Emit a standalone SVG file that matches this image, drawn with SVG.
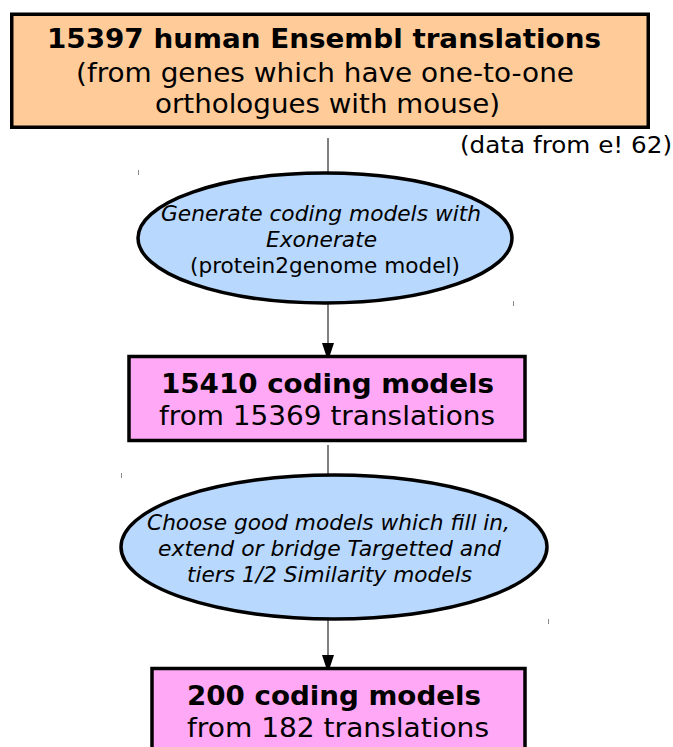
<svg xmlns="http://www.w3.org/2000/svg" width="673" height="747" viewBox="0 0 673 747">
<defs>
<style>
.box{stroke:#000;stroke-width:3.5}
.ell{fill:#b9d8fd;stroke:#000;stroke-width:3.5}
.t{font-family:"DejaVu Sans",sans-serif;text-anchor:middle;fill:#000}
.b{font-weight:bold}
.i{font-style:italic}
.c{stroke:#000;stroke-width:1;fill:none}
.tick{stroke:#888;stroke-width:1}
</style>
<marker id="ah" viewBox="0 0 12 18" refX="12" refY="6" markerWidth="12" markerHeight="18" markerUnits="userSpaceOnUse" orient="auto">
<path d="M0,0 L18,6 L0,12 Z" fill="#000"/>
</marker>
</defs>
<rect width="673" height="747" fill="#fff"/>
<g id="connectors">
<line class="c" x1="328" y1="138" x2="328" y2="172"/>
<line class="c" x1="328" y1="304" x2="328" y2="355" marker-end="url(#ah)"/>
<line class="c" x1="328" y1="445" x2="328" y2="474"/>
<line class="c" x1="328" y1="620" x2="328" y2="667" marker-end="url(#ah)"/>
</g>
<g id="ticks">
<line class="tick" x1="138.5" y1="170" x2="138.5" y2="175"/>
<line class="tick" x1="513.5" y1="301" x2="513.5" y2="306"/>
<line class="tick" x1="121.5" y1="473" x2="121.5" y2="478"/>
<line class="tick" x1="548.5" y1="619" x2="548.5" y2="624"/>
</g>
<g id="n1">
<rect class="box" x="11.75" y="14.25" width="636.5" height="113" fill="#ffcc99"/>
<text class="t b" x="324" y="48" font-size="27" textLength="554" lengthAdjust="spacingAndGlyphs">15397 human Ensembl translations</text>
<text class="t" x="325" y="82" font-size="27" textLength="498" lengthAdjust="spacingAndGlyphs">(from genes which have one-to-one</text>
<text class="t" x="327.5" y="113" font-size="27" textLength="345" lengthAdjust="spacingAndGlyphs">orthologues with mouse)</text>
</g>
<g id="note">
<text x="460" y="153" font-family="DejaVu Sans,sans-serif" font-size="22.5" fill="#000" textLength="212" lengthAdjust="spacingAndGlyphs">(data from e! 62)</text>
</g>
<g id="n2">
<ellipse class="ell" cx="325" cy="238" rx="187" ry="65"/>
<text class="t i" x="321" y="221" font-size="21" textLength="320" lengthAdjust="spacingAndGlyphs">Generate coding models with</text>
<text class="t i" x="321.5" y="247" font-size="21" textLength="111" lengthAdjust="spacingAndGlyphs">Exonerate</text>
<text class="t" x="325" y="273" font-size="21" textLength="270" lengthAdjust="spacingAndGlyphs">(protein2genome model)</text>
</g>
<g id="n3">
<rect class="box" x="129" y="356.5" width="396" height="84" fill="#ffa8f5"/>
<text class="t b" x="327.5" y="393" font-size="27" textLength="333" lengthAdjust="spacingAndGlyphs">15410 coding models</text>
<text class="t" x="327" y="425" font-size="27" textLength="336" lengthAdjust="spacingAndGlyphs">from 15369 translations</text>
</g>
<g id="n4">
<ellipse class="ell" cx="334" cy="547" rx="213" ry="72"/>
<text class="t i" x="328.5" y="530" font-size="21" textLength="363" lengthAdjust="spacingAndGlyphs">Choose good models which fill in,</text>
<text class="t i" x="329.5" y="556" font-size="21" textLength="343" lengthAdjust="spacingAndGlyphs">extend or bridge Targetted and</text>
<text class="t i" x="329.5" y="582" font-size="21" textLength="285" lengthAdjust="spacingAndGlyphs">tiers 1/2 Similarity models</text>
</g>
<g id="n5">
<rect class="box" x="152" y="668.5" width="373" height="100" fill="#ffa8f5"/>
<text class="t b" x="334" y="705" font-size="27" textLength="294" lengthAdjust="spacingAndGlyphs">200 coding models</text>
<text class="t" x="338" y="737" font-size="27" textLength="302" lengthAdjust="spacingAndGlyphs">from 182 translations</text>
</g>
</svg>
